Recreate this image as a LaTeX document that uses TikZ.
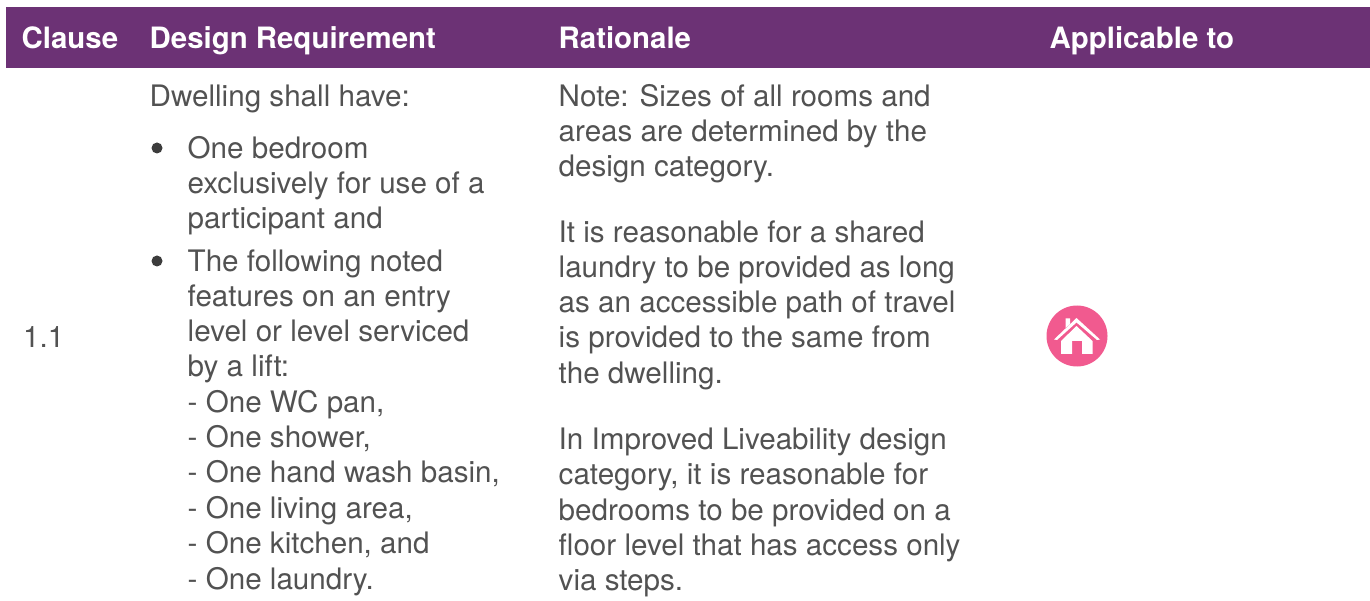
\documentclass[tikz,border=0pt]{standalone}
\usepackage{fontspec}
\setmainfont{TeX Gyre Heros}
\definecolor{hdr}{HTML}{6C3275}
\definecolor{pinkc}{HTML}{F15A8F}
\definecolor{txt}{HTML}{525252}
\definecolor{bulc}{HTML}{3C3C3C}
\tikzset{
 x=1pt,y=-1pt,
 body/.style={anchor=base west,inner sep=0pt,text=txt,font=\fontsize{29.6}{34}\selectfont},
 head/.style={anchor=base west,inner sep=0pt,text=white,font=\bfseries\fontsize{29.4}{33}\selectfont},
 bul/.style={circle,fill=bulc,inner sep=0pt,minimum size=11pt},
 hbar/.style={fill=hdr,draw=none,inner sep=0pt,minimum width=1364pt,minimum height=61pt,anchor=north west},
 iconbg/.style={circle,fill=pinkc,inner sep=0pt,minimum size=61pt}
}
\begin{document}
\begin{tikzpicture}
\useasboundingbox (0,0) rectangle (1370,601);
\node[hbar] (bar) at (6,7) {};
\node[head] (h1) at (21.5,48.7) {Clause};
\node[head] (h2) at (149.5,48.7) {Design Requirement};
\node[head] (h3) at (558.5,48.7) {Rationale};
\node[head] (h4) at (1049.5,48.7) {Applicable to};
\node[body] (c) at (23,347.5) {1.1};
\node[body] (a0) at (149.5,107) {Dwelling shall have:};
\node[bul] (b1) at (157,148) {};
\node[bul] (b2) at (157,261) {};
\node[body] (a1) at (187.5,159) {One bedroom};
\node[body] (a2) at (187.5,194) {exclusively for use of a};
\node[body] (a3) at (187.5,229) {participant and};
\node[body] (a4) at (187.5,272) {The following noted};
\node[body] (a5) at (187.5,306.5) {features on an entry};
\node[body] (a6) at (187.5,341.5) {level or level serviced};
\node[body] (a7) at (187.5,377) {by a lift:};
\node[body] (a8) at (187.5,412.5) {- One WC pan,};
\node[body] (a9) at (187.5,447.5) {- One shower,};
\node[body] (a10) at (187.5,482.5) {- One hand wash basin,};
\node[body] (a11) at (187.5,518) {- One living area,};
\node[body] (a12) at (187.5,553) {- One kitchen, and};
\node[body] (a13) at (187.5,589) {- One laundry.};
\node[body] (r1) at (558.5,107) {Note: Sizes of all rooms and};
\node[body] (r2) at (558.5,142) {areas are determined by the};
\node[body] (r3) at (558.5,177) {design category.};
\node[body] (r4) at (558.5,243) {It is reasonable for a shared};
\node[body] (r5) at (558.5,278) {laundry to be provided as long};
\node[body] (r6) at (558.5,313) {as an accessible path of travel};
\node[body] (r7) at (558.5,348) {is provided to the same from};
\node[body] (r8) at (558.5,383) {the dwelling.};
\node[body] (r9) at (558.5,449.5) {In Improved Liveability design};
\node[body] (r10) at (558.5,484.5) {category, it is reasonable for};
\node[body] (r11) at (558.5,520) {bedrooms to be provided on a};
\node[body] (r12) at (558.5,555) {floor level that has access only};
\node[body] (r13) at (558.5,590) {via steps.};
\node[iconbg] (icon) at (1077,336) {};
% house
\fill[white] (1065.5,318.5) -- (1070,318.5) -- (1070,324) -- (1065.5,328) -- cycle;
\fill[white] (1054,339.5) -- (1076.5,318) -- (1100,339.5) -- (1097,340) -- (1076.5,322.5) -- (1057,340) -- cycle;
\fill[white] (1061,341) -- (1076.5,326) -- (1092.5,341) -- (1092.5,354) -- (1082,354) -- (1082,341) -- (1072,341) -- (1072,354) -- (1061,354) -- cycle;
\end{tikzpicture}
\end{document}
